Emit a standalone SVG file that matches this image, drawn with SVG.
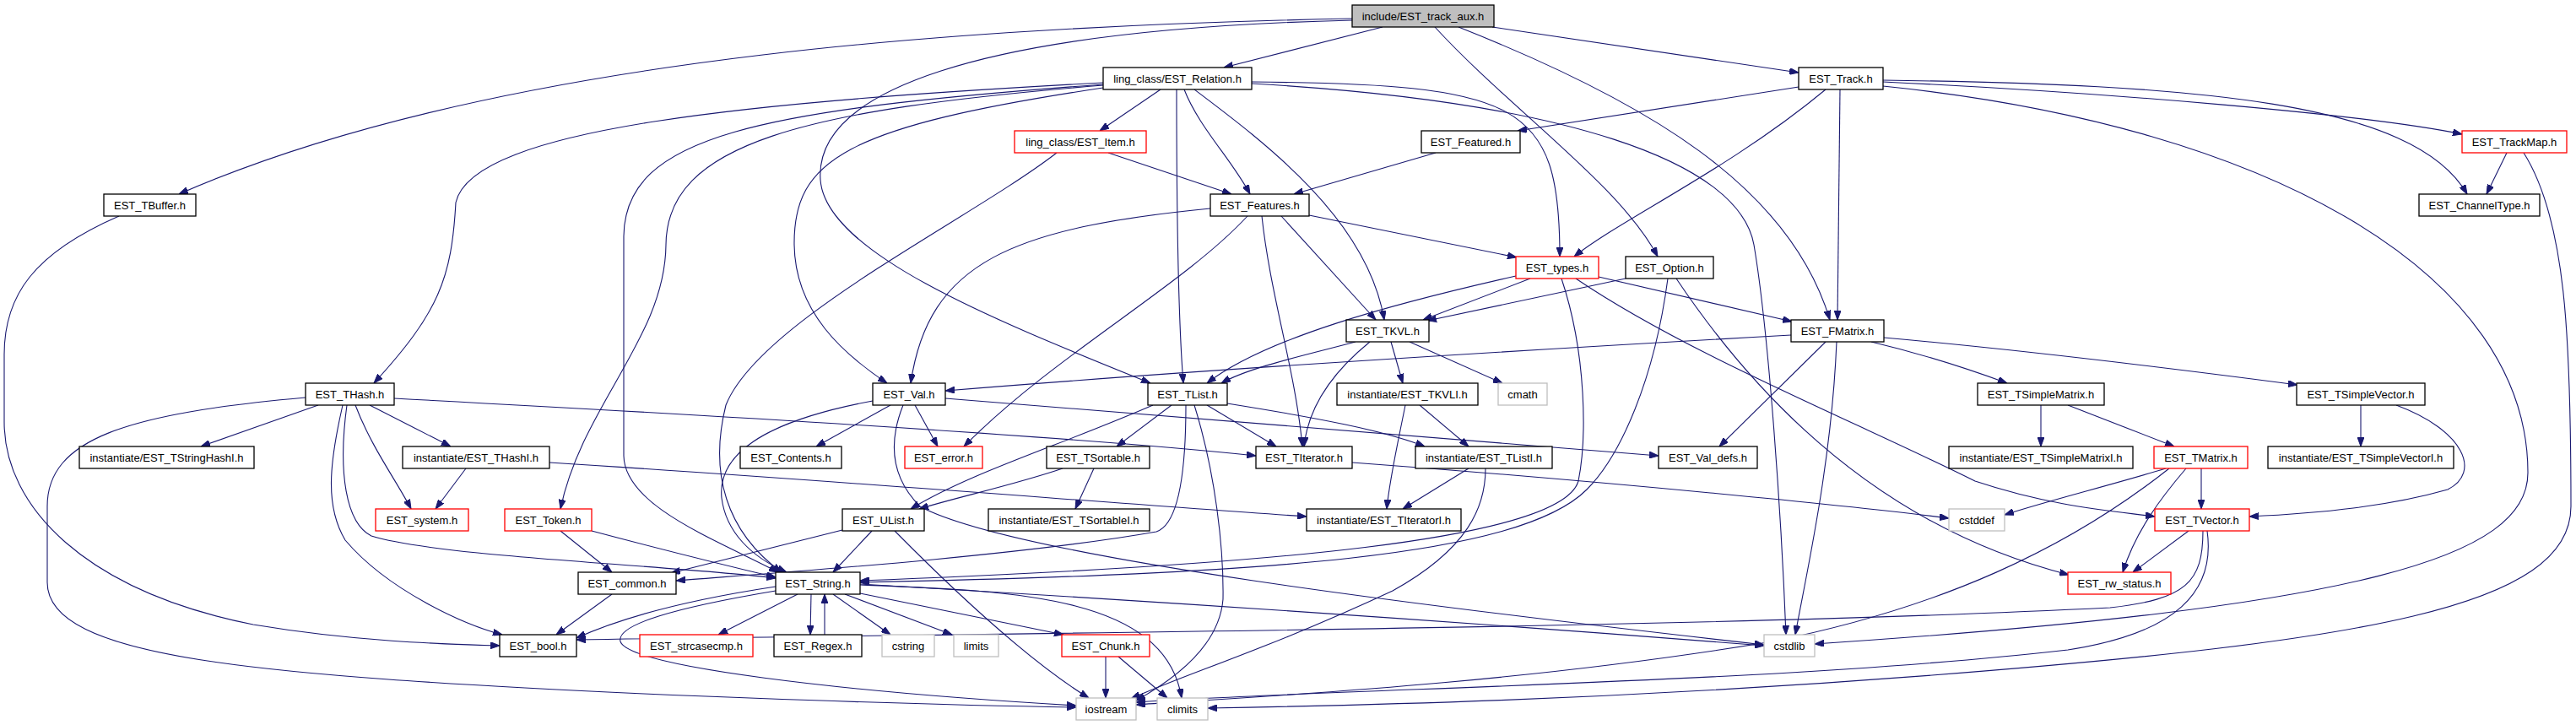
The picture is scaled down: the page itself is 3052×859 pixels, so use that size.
<svg xmlns="http://www.w3.org/2000/svg" width="3052" height="859" viewBox="0 0 3052 859">
<style>
.n rect{fill:#fff;stroke:#000;stroke-width:1.3}
.n.r rect{stroke:#ff0000}
.n.g rect{stroke:#bfbfbf}
.n.root rect{fill:#bfbfbf}
.n text{font-family:"Liberation Sans",Arial,sans-serif;font-size:13px;fill:#000;text-anchor:middle}
#edges path{fill:none;stroke:#191970;stroke-width:1.1;marker-end:url(#a)}
</style>
<defs>
<marker id="a" markerWidth="11" markerHeight="8" refX="11" refY="4" orient="auto" markerUnits="userSpaceOnUse"><path d="M0,0 L11,4 L0,8 z" fill="#191970" stroke="#191970" stroke-width="1"/></marker>
</defs>
<rect width="3052" height="859" fill="#fff"/>
<g id="edges">
<path d="M1602,22 C1200,30 600,60 212,230"/>
<path d="M1638,32 L1450,80"/>
<path d="M1768,32 L2131,86"/>
<path d="M1602,24 C1150,35 965,110 972,213 C978,300 1180,380 1363,454"/>
<path d="M1700,32 C1790,130 1920,220 1964,304"/>
<path d="M1728,32 C1950,120 2120,220 2168,379"/>
<path d="M1375,106 L1303,155"/>
<path d="M1403,106 C1420,150 1460,190 1481,230"/>
<path d="M1394,106 C1394,250 1396,380 1402,454"/>
<path d="M1415,106 C1500,170 1620,260 1640,379"/>
<path d="M1483,97 C1800,100 1848,120 1848,304"/>
<path d="M1483,99 C1850,120 2060,190 2078,290 C2095,390 2110,600 2116,752"/>
<path d="M1307,98 C900,120 560,150 540,240 C535,330 520,370 443,454"/>
<path d="M1307,104 C1000,150 940,190 941,290 C942,370 1000,420 1051,454"/>
<path d="M1307,100 C900,130 740,160 739,280 L739,540 C740,600 850,640 922,678"/>
<path d="M1307,101 C950,130 790,170 789,290 C788,400 690,480 664,603"/>
<path d="M2131,103 L1798,155"/>
<path d="M2163,106 C2050,200 1920,260 1865,304"/>
<path d="M2180,106 L2177,379"/>
<path d="M2231,97 C2500,110 2800,135 2917,159"/>
<path d="M2231,95 C2600,100 2860,120 2923,230"/>
<path d="M2231,102 C2700,150 2995,330 2995,560 C2995,660 2800,720 2150,763"/>
<path d="M2970,181 L2946,230"/>
<path d="M2990,181 C3040,260 3046,400 3046,600 C3046,720 2800,760 2289,800 C1900,830 1600,836 1431,839"/>
<path d="M1701,181 L1533,230"/>
<path d="M1313,181 L1459,230"/>
<path d="M1252,181 C1150,260 900,380 860,480 C840,560 860,630 926,678"/>
<path d="M1434,247 C1200,270 1100,310 1079,454"/>
<path d="M1478,256 C1400,340 1250,420 1142,529"/>
<path d="M1495,256 C1505,350 1535,440 1543,529"/>
<path d="M1518,256 L1630,379"/>
<path d="M1551,255 L1797,305"/>
<path d="M1796,327 C1650,360 1500,400 1430,454"/>
<path d="M1813,330 L1686,379"/>
<path d="M1850,330 C1880,420 1880,520 1870,570 C1850,640 1500,670 1019,688"/>
<path d="M1867,330 C2000,420 2200,500 2340,570 C2430,600 2500,605 2553,612"/>
<path d="M1894,328 L2123,381"/>
<path d="M1926,330 L1691,380"/>
<path d="M1976,330 C1960,450 1920,540 1880,580 C1800,660 1500,680 1019,690"/>
<path d="M1986,330 C2100,500 2250,630 2451,681"/>
<path d="M1606,405 C1550,420 1480,435 1447,454"/>
<path d="M1623,405 C1580,440 1550,480 1545,529"/>
<path d="M1648,405 L1662,454"/>
<path d="M1670,405 L1780,454"/>
<path d="M2122,397 C1800,415 1400,440 1120,463"/>
<path d="M2163,405 L2037,529"/>
<path d="M2176,405 C2170,550 2140,680 2127,752"/>
<path d="M2217,405 C2280,420 2340,440 2378,454"/>
<path d="M2232,400 C2400,415 2600,440 2722,456"/>
<path d="M377,480 L238,529"/>
<path d="M438,480 L534,529"/>
<path d="M421,480 C440,530 470,570 487,603"/>
<path d="M406,480 C390,550 385,600 409,640 C460,700 550,740 595,752"/>
<path d="M411,480 C400,560 410,620 440,635 C520,660 800,670 919,685"/>
<path d="M362,471 C150,490 56,520 56,600 L56,690 C56,780 300,800 763,822 C1000,832 1150,836 1275,838"/>
<path d="M467,472 C900,495 1300,520 1488,540"/>
<path d="M552,555 L516,603"/>
<path d="M651,548 C1000,570 1300,595 1548,612"/>
<path d="M141,256 C40,300 5,350 5,420 L5,500 C5,600 100,700 300,740 C420,760 520,763 592,765"/>
<path d="M1034,475 C900,500 850,540 855,590 C860,630 890,660 932,678"/>
<path d="M1055,480 L967,529"/>
<path d="M1084,480 L1111,529"/>
<path d="M1120,472 C1500,500 1800,525 1965,540"/>
<path d="M1070,480 C1050,530 1060,570 1090,600 C1200,660 1700,720 2090,764"/>
<path d="M1388,480 L1323,529"/>
<path d="M1430,480 L1512,529"/>
<path d="M1454,478 C1560,495 1640,510 1688,529"/>
<path d="M1366,480 C1250,530 1150,560 1079,603"/>
<path d="M1405,480 C1405,540 1400,620 1370,630 C1200,660 900,680 801,688"/>
<path d="M1415,480 C1440,560 1450,650 1449,710 C1445,760 1400,800 1346,830"/>
<path d="M1259,555 C1200,575 1130,590 1089,603"/>
<path d="M1296,555 L1274,603"/>
<path d="M1602,548 C1900,570 2200,600 2309,614"/>
<path d="M1665,480 C1655,530 1646,570 1643,603"/>
<path d="M1682,480 L1740,529"/>
<path d="M1740,555 L1662,603"/>
<path d="M1760,555 C1760,600 1740,650 1650,700 C1500,770 1400,800 1340,828"/>
<path d="M998,628 L795,679"/>
<path d="M1033,629 L987,678"/>
<path d="M1060,629 C1150,720 1230,790 1290,827"/>
<path d="M664,629 L725,678"/>
<path d="M701,629 C780,650 860,670 919,684"/>
<path d="M725,704 L659,752"/>
<path d="M945,704 L851,752"/>
<path d="M961,704 L960,752"/>
<path d="M977,752 L977,704"/>
<path d="M987,704 L1055,752"/>
<path d="M1001,704 L1128,752"/>
<path d="M1019,703 L1260,752"/>
<path d="M919,695 C820,710 740,730 683,756"/>
<path d="M919,700 C800,720 730,740 735,760 C745,790 1000,820 1275,836"/>
<path d="M1019,693 C1200,700 1380,705 1400,827"/>
<path d="M1019,692 C1500,720 1900,750 2090,765"/>
<path d="M1310,778 L1310,827"/>
<path d="M1325,778 L1383,827"/>
<path d="M2418,480 L2418,529"/>
<path d="M2450,480 L2576,529"/>
<path d="M2797,480 L2797,529"/>
<path d="M2839,480 C2920,510 2940,560 2900,580 C2830,600 2750,608 2665,612"/>
<path d="M2608,555 L2608,603"/>
<path d="M2590,555 C2560,590 2530,630 2515,678"/>
<path d="M2566,555 C2500,575 2420,595 2375,610"/>
<path d="M2570,555 C2450,650 2300,720 2100,760 C1800,810 1500,825 1346,835"/>
<path d="M2593,629 L2527,678"/>
<path d="M2610,629 C2610,690 2590,710 2500,720 C2000,745 1200,750 683,758"/>
<path d="M2615,629 C2625,700 2580,750 2450,770 C2100,810 1600,815 1346,832"/>
</g>
<g id="n_aux" class="n root"><rect x="1602" y="6" width="168" height="26"/><text x="1686" y="23.5">include/EST_track_aux.h</text></g>
<g id="n_relation" class="n"><rect x="1307" y="80" width="176" height="26"/><text x="1395" y="97.5">ling_class/EST_Relation.h</text></g>
<g id="n_track" class="n"><rect x="2131" y="80" width="100" height="26"/><text x="2181" y="97.5">EST_Track.h</text></g>
<g id="n_item" class="n r"><rect x="1202" y="155" width="156" height="26"/><text x="1280" y="172.5">ling_class/EST_Item.h</text></g>
<g id="n_featured" class="n"><rect x="1684" y="155" width="117" height="26"/><text x="1742.5" y="172.5">EST_Featured.h</text></g>
<g id="n_trackmap" class="n r"><rect x="2917" y="155" width="124" height="26"/><text x="2979" y="172.5">EST_TrackMap.h</text></g>
<g id="n_tbuffer" class="n"><rect x="123" y="230" width="109" height="26"/><text x="177.5" y="247.5">EST_TBuffer.h</text></g>
<g id="n_features" class="n"><rect x="1434" y="230" width="117" height="26"/><text x="1492.5" y="247.5">EST_Features.h</text></g>
<g id="n_channeltype" class="n"><rect x="2866" y="230" width="143" height="26"/><text x="2937.5" y="247.5">EST_ChannelType.h</text></g>
<g id="n_types" class="n r"><rect x="1796" y="304" width="98" height="26"/><text x="1845" y="321.5">EST_types.h</text></g>
<g id="n_option" class="n"><rect x="1926" y="304" width="104" height="26"/><text x="1978" y="321.5">EST_Option.h</text></g>
<g id="n_tkvl" class="n"><rect x="1595" y="379" width="98" height="26"/><text x="1644" y="396.5">EST_TKVL.h</text></g>
<g id="n_fmatrix" class="n"><rect x="2122" y="379" width="110" height="26"/><text x="2177" y="396.5">EST_FMatrix.h</text></g>
<g id="n_thash" class="n"><rect x="362" y="454" width="105" height="26"/><text x="414.5" y="471.5">EST_THash.h</text></g>
<g id="n_val" class="n"><rect x="1034" y="454" width="86" height="26"/><text x="1077" y="471.5">EST_Val.h</text></g>
<g id="n_tlist" class="n"><rect x="1360" y="454" width="94" height="26"/><text x="1407" y="471.5">EST_TList.h</text></g>
<g id="n_tkvli" class="n"><rect x="1584" y="454" width="167" height="26"/><text x="1667.5" y="471.5">instantiate/EST_TKVLI.h</text></g>
<g id="n_cmath" class="n g"><rect x="1775" y="454" width="58" height="26"/><text x="1804" y="471.5">cmath</text></g>
<g id="n_tsimplematrix" class="n"><rect x="2343" y="454" width="150" height="26"/><text x="2418" y="471.5">EST_TSimpleMatrix.h</text></g>
<g id="n_tsimplevector" class="n"><rect x="2721" y="454" width="152" height="26"/><text x="2797" y="471.5">EST_TSimpleVector.h</text></g>
<g id="n_tstringhashi" class="n"><rect x="94" y="529" width="207" height="26"/><text x="197.5" y="546.5">instantiate/EST_TStringHashI.h</text></g>
<g id="n_thashi" class="n"><rect x="477" y="529" width="174" height="26"/><text x="564" y="546.5">instantiate/EST_THashI.h</text></g>
<g id="n_contents" class="n"><rect x="877" y="529" width="120" height="26"/><text x="937" y="546.5">EST_Contents.h</text></g>
<g id="n_error" class="n r"><rect x="1072" y="529" width="92" height="26"/><text x="1118" y="546.5">EST_error.h</text></g>
<g id="n_tsortable" class="n"><rect x="1240" y="529" width="122" height="26"/><text x="1301" y="546.5">EST_TSortable.h</text></g>
<g id="n_titerator" class="n"><rect x="1488" y="529" width="114" height="26"/><text x="1545" y="546.5">EST_TIterator.h</text></g>
<g id="n_tlisti" class="n"><rect x="1677" y="529" width="162" height="26"/><text x="1758" y="546.5">instantiate/EST_TListI.h</text></g>
<g id="n_valdefs" class="n"><rect x="1965" y="529" width="117" height="26"/><text x="2023.5" y="546.5">EST_Val_defs.h</text></g>
<g id="n_tsimplematrixi" class="n"><rect x="2309" y="529" width="218" height="26"/><text x="2418" y="546.5">instantiate/EST_TSimpleMatrixI.h</text></g>
<g id="n_tmatrix" class="n r"><rect x="2552" y="529" width="111" height="26"/><text x="2607.5" y="546.5">EST_TMatrix.h</text></g>
<g id="n_tsimplevectori" class="n"><rect x="2687" y="529" width="220" height="26"/><text x="2797" y="546.5">instantiate/EST_TSimpleVectorI.h</text></g>
<g id="n_system" class="n r"><rect x="445" y="603" width="110" height="26"/><text x="500" y="620.5">EST_system.h</text></g>
<g id="n_token" class="n r"><rect x="598" y="603" width="103" height="26"/><text x="649.5" y="620.5">EST_Token.h</text></g>
<g id="n_ulist" class="n"><rect x="998" y="603" width="97" height="26"/><text x="1046.5" y="620.5">EST_UList.h</text></g>
<g id="n_tsortablei" class="n"><rect x="1171" y="603" width="191" height="26"/><text x="1266.5" y="620.5">instantiate/EST_TSortableI.h</text></g>
<g id="n_titeratori" class="n"><rect x="1548" y="603" width="183" height="26"/><text x="1639.5" y="620.5">instantiate/EST_TIteratorI.h</text></g>
<g id="n_cstddef" class="n g"><rect x="2309" y="603" width="66" height="26"/><text x="2342" y="620.5">cstddef</text></g>
<g id="n_tvector" class="n r"><rect x="2553" y="603" width="112" height="26"/><text x="2609" y="620.5">EST_TVector.h</text></g>
<g id="n_common" class="n"><rect x="685" y="678" width="116" height="26"/><text x="743" y="695.5">EST_common.h</text></g>
<g id="n_string" class="n"><rect x="919" y="678" width="100" height="26"/><text x="969" y="695.5">EST_String.h</text></g>
<g id="n_rwstatus" class="n r"><rect x="2450" y="678" width="122" height="26"/><text x="2511" y="695.5">EST_rw_status.h</text></g>
<g id="n_bool" class="n"><rect x="592" y="752" width="91" height="26"/><text x="637.5" y="769.5">EST_bool.h</text></g>
<g id="n_strcasecmp" class="n r"><rect x="758" y="752" width="134" height="26"/><text x="825" y="769.5">EST_strcasecmp.h</text></g>
<g id="n_regex" class="n"><rect x="917" y="752" width="104" height="26"/><text x="969" y="769.5">EST_Regex.h</text></g>
<g id="n_cstring" class="n g"><rect x="1045" y="752" width="62" height="26"/><text x="1076" y="769.5">cstring</text></g>
<g id="n_limits" class="n g"><rect x="1130" y="752" width="53" height="26"/><text x="1156.5" y="769.5">limits</text></g>
<g id="n_chunk" class="n r"><rect x="1258" y="752" width="104" height="26"/><text x="1310" y="769.5">EST_Chunk.h</text></g>
<g id="n_cstdlib" class="n g"><rect x="2090" y="752" width="60" height="26"/><text x="2120" y="769.5">cstdlib</text></g>
<g id="n_iostream" class="n g"><rect x="1275" y="827" width="71" height="26"/><text x="1310.5" y="844.5">iostream</text></g>
<g id="n_climits" class="n g"><rect x="1371" y="827" width="60" height="26"/><text x="1401" y="844.5">climits</text></g>
</svg>
